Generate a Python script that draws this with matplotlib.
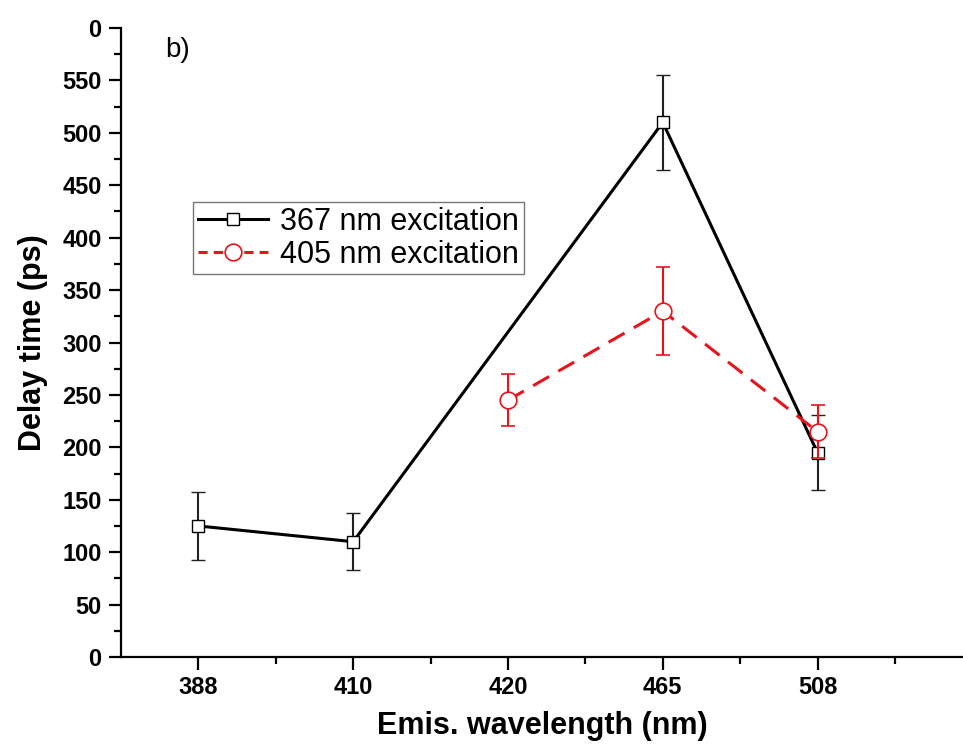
import numpy as np
import matplotlib
matplotlib.use("Agg")
import matplotlib.pyplot as plt
from matplotlib.lines import Line2D
from matplotlib.ticker import MultipleLocator, FixedLocator, FixedFormatter

# categories on the x axis (equally spaced)
categories = ["388", "410", "420", "465", "508"]

# 367 nm excitation (no point at 420)
ex367_cat = ["388", "410", "465", "508"]
ex367_val = [125, 110, 510, 195]
ex367_err = [32, 27, 45, 36]

# 405 nm excitation
ex405_cat = ["420", "465", "508"]
ex405_val = [245, 330, 215]
ex405_err = [25, 42, 25]

y_ticks = [0, 50, 100, 150, 200, 250, 300, 350, 400, 450, 500, 550, 600]
y_ticklabels = ["0", "50", "100", "150", "200", "250", "300", "350", "400",
                "450", "500", "550", "0"]

RED = "#e8141c"
plt.rcParams["font.family"] = ["Liberation Sans", "DejaVu Sans"]

fig = plt.figure(figsize=(9.63, 7.49), dpi=100)
ax = fig.add_axes([0.1257, 0.1228, 0.8743, 0.8398])

pos = {c: i + 1 for i, c in enumerate(categories)}
x367 = [pos[c] for c in ex367_cat]
x405 = [pos[c] for c in ex405_cat]

ax.errorbar(x367, ex367_val, yerr=ex367_err, color="black", lw=2.2,
            ecolor="#222222", elinewidth=1.5, capsize=5, capthick=1.5,
            marker="s", ms=9, mfc="white", mec="black", mew=1.0, zorder=3)
ax.errorbar(x405, ex405_val, yerr=ex405_err, color=RED, lw=2.2,
            ls=(0, (6, 3.5)), ecolor=RED, elinewidth=1.5, capsize=5,
            capthick=1.5, marker="o", ms=12, mfc="white", mec=RED,
            mew=1.2, zorder=4)

ax.set_xlim(0.5, 5.94)
ax.set_ylim(0, 600)

ax.xaxis.set_major_locator(FixedLocator(list(pos.values())))
ax.set_xticklabels(categories)
ax.xaxis.set_minor_locator(FixedLocator([1.5, 2.5, 3.5, 4.5, 5.5]))
ax.yaxis.set_major_locator(FixedLocator(y_ticks))
ax.yaxis.set_major_formatter(FixedFormatter(y_ticklabels))
ax.yaxis.set_minor_locator(MultipleLocator(25))

ax.tick_params(which="major", direction="out", length=9, width=1.6,
               labelsize=17, pad=5)
ax.tick_params(which="minor", direction="out", length=5, width=1.6)
for lab in ax.get_xticklabels() + ax.get_yticklabels():
    lab.set_fontweight("bold")

for side in ["top", "right"]:
    ax.spines[side].set_visible(False)
for side in ["left", "bottom"]:
    ax.spines[side].set_linewidth(1.6)

ax.set_xlabel("Emis. wavelength (nm)", fontsize=22, fontweight="bold", labelpad=8)
ax.set_ylabel("Delay time (ps)", fontsize=22, fontweight="bold", labelpad=10)

ax.text(0.052, 0.985, "b)", transform=ax.transAxes, fontsize=20, va="top")

handles = [
    Line2D([], [], color="black", lw=2.2, marker="s", ms=9, mfc="white",
           mec="black", mew=1.0),
    Line2D([], [], color=RED, lw=2.2, ls=(0, (3, 2)), marker="o", ms=12,
           mfc="white", mec=RED, mew=1.2),
]
leg = ax.legend(handles, ["367 nm excitation", "405 nm excitation"],
                loc="upper left", bbox_to_anchor=(0.0855, 0.7234), fontsize=22,
                frameon=True, fancybox=False, edgecolor="#555555",
                handlelength=2.3, borderpad=0.15, labelspacing=0.1,
                handletextpad=0.4, borderaxespad=0)
leg.get_frame().set_linewidth(1.0)

fig.savefig("out.png", dpi=100)
